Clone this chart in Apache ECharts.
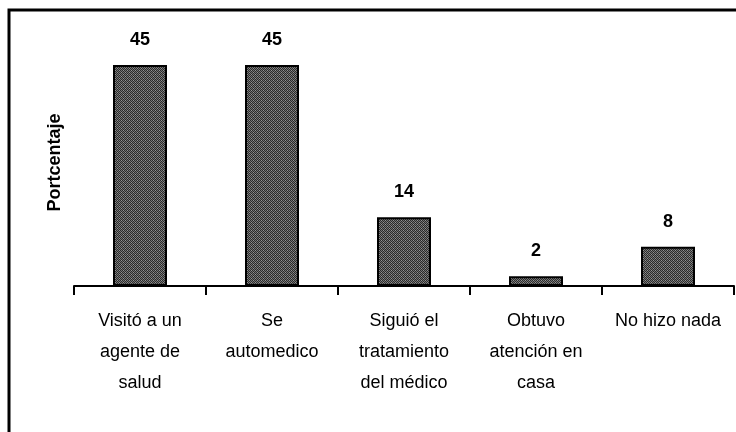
<!DOCTYPE html>
<html>
<head>
<meta charset="utf-8">
<script src="https://cdn.jsdelivr.net/npm/echarts@6/dist/echarts.min.js"></script>
<style>
  html, body { margin: 0; padding: 0; background: #fff; }
  #chart { width: 736px; height: 432px; }
</style>
</head>
<body>
<div id="chart"></div>
<script>
// categories as printed (line breaks follow the picture)
var categories = [
  'Visitó a un\nagente de\nsalud',
  'Se\nautomedico',
  'Siguió el\ntratamiento\ndel médico',
  'Obtuvo\natención en\ncasa',
  'No hizo nada'
]
var porcentaje = [45, 45, 14, 2, 8]
var yName = 'Portcentaje'

var sans = '"Liberation Sans", Arial, sans-serif'

// small dotted fill like the original hatch
function makePattern() {
  var c = document.createElement('canvas')
  c.width = 4
  c.height = 4
  var ctx = c.getContext('2d')
  ctx.fillStyle = '#747474'
  ctx.fillRect(0, 0, 4, 4)
  ctx.fillStyle = '#2a2a2a'
  ctx.fillRect(0, 0, 1, 1)
  ctx.fillRect(2, 0, 1, 1)
  ctx.fillRect(1, 1, 1, 1)
  ctx.fillRect(3, 1, 1, 1)
  ctx.fillRect(0, 2, 1, 1)
  ctx.fillRect(2, 2, 1, 1)
  ctx.fillRect(1, 3, 1, 1)
  ctx.fillRect(3, 3, 1, 1)
  ctx.fillStyle = '#949494'
  ctx.fillRect(1, 0, 1, 1)
  ctx.fillRect(3, 2, 1, 1)
  return c
}

var chart = echarts.init(document.getElementById('chart'))
chart.setOption({
  animation: false,
  grid: {
    left: 74,
    right: 2,
    top: 65,
    bottom: 146,
    containLabel: false,
    outerBoundsMode: 'none'
  },
  graphic: [
    {
      // outer frame: only left and top sides are visible in the picture
      type: 'polyline',
      shape: { points: [[9, 440], [9, 10], [745, 10]] },
      style: { stroke: '#000', lineWidth: 3, fill: null }
    }
  ],
  xAxis: {
    type: 'category',
    data: categories,
    axisLine: { lineStyle: { color: '#000', width: 2 } },
    axisTick: { show: true, length: 9, lineStyle: { color: '#000', width: 2 } },
    axisLabel: {
      color: '#000',
      fontFamily: sans,
      fontSize: 18,
      lineHeight: 31,
      margin: 20,
      interval: 0
    }
  },
  yAxis: {
    type: 'value',
    min: 0,
    max: 45,
    name: yName,
    nameLocation: 'middle',
    nameRotate: 90,
    nameGap: 10,
    nameTextStyle: {
      color: '#000',
      fontFamily: sans,
      fontWeight: 'bold',
      fontSize: 18,
      padding: [0, 0, 0, 26]
    },
    axisLine: { show: false },
    axisTick: { show: false },
    axisLabel: { show: false },
    splitLine: { show: false }
  },
  series: [
    {
      type: 'bar',
      data: porcentaje,
      barWidth: 54,
      itemStyle: {
        color: { image: makePattern(), repeat: 'repeat' },
        borderColor: '#000',
        borderWidth: 2
      },
      label: {
        show: true,
        position: 'top',
        distance: 16,
        color: '#000',
        fontFamily: sans,
        fontWeight: 'bold',
        fontSize: 18
      }
    }
  ]
})
</script>
</body>
</html>
